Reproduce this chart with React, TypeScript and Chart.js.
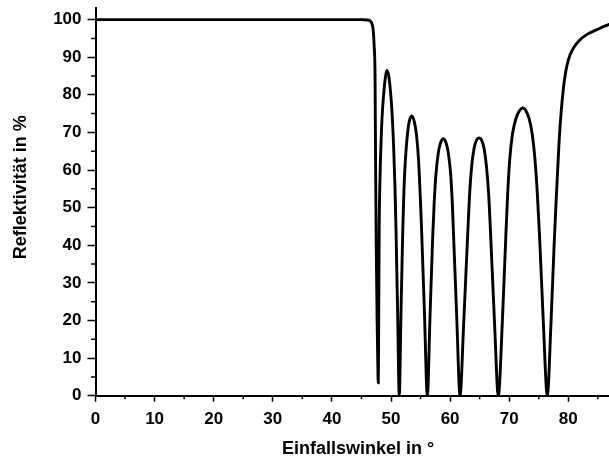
import React, { useEffect, useRef } from "react";
import { Chart, registerables } from "chart.js";

Chart.register(...registerables);

// Incidence angle (degrees)
const angles = [
  0, 10, 20, 30, 40, 45, 46, 46.5, 46.8, 47.0, 47.15, 47.3, 47.4, 47.5, 47.65, 47.8, 47.85,
  47.92, 48.0, 48.1, 48.22, 48.4, 48.58, 48.78, 49.0, 49.27,
  49.55, 49.83, 50.15, 50.45, 50.68, 50.85, 51.12, 51.4,
  51.69, 51.99, 52.2, 52.45, 52.78, 53.1, 53.5,
  53.92, 54.3, 54.65, 54.95, 55.18, 55.66, 56.15,
  56.6, 57.05, 57.3, 57.6, 58.0, 58.4, 58.85,
  59.3, 59.7, 60.1, 60.38, 60.6, 61.12, 61.68,
  62.3, 62.95, 63.28, 63.65, 64.05, 64.45, 64.9,
  65.35, 65.75, 66.15, 66.55, 66.88, 67.52, 68.16,
  68.83, 69.42, 69.75, 70.1, 70.55, 71.1, 71.7, 72.28,
  72.85, 73.4, 73.9, 74.35, 74.75, 75.15, 75.78, 76.45,
  77.07, 77.6, 77.87, 78.43, 78.82, 79.15, 79.44, 79.8, 80.29, 80.85, 81.7, 83.1, 85.1, 86.9, 88.5, 90,
];

// Reflectivity (%)
const reflectivity = [
  100, 100, 100, 100, 100, 100, 99.9, 99.6, 98.8, 97, 93, 85, 60, 40, 20, 5, 3.4,
  20, 44, 55, 63, 71, 76.5, 80.5, 84, 86.5,
  85.6, 82.3, 76, 66, 55, 44, 22, 0,
  22, 44, 55, 63, 69.5, 73, 74.4,
  73, 69.5, 63, 53, 44, 22, 0,
  21, 42, 51, 58.8, 64.5, 67.3, 68.3,
  67.3, 64.5, 58.8, 51, 42, 21, 0,
  19.3, 42, 53, 61, 65.7, 67.9, 68.5,
  67.9, 65.7, 61, 53, 42, 19.3, 0,
  19.3, 42, 54, 63, 69.5, 73.5, 75.7, 76.5,
  75.7, 73.5, 69.5, 63, 54, 42, 19.3, 0,
  19.3, 40, 49.4, 67.2, 76, 81.4, 84.9, 88, 90.6, 92.4, 94.2, 96, 97.5, 98.7, 99.4, 99.8,
];

const xMin = 0;
const xMax = 90;
const xStep = 10;
const xMinorTicks = [5, 15, 25, 35, 45, 55, 65, 75, 85];
const yMin = 0;
const yMax = 103;
const yStep = 10;
const yMinorTicks = [5, 15, 25, 35, 45, 55, 65, 75, 85, 95];

const xTitle = "Einfallswinkel in °";
const yTitle = "Reflektivität in %";

const FONT = "'Liberation Sans', Arial, sans-serif";

export default function App() {
  const ref = useRef<HTMLCanvasElement | null>(null);

  useEffect(() => {
    const canvas = ref.current;
    if (!canvas) return;

    const points = angles.map((a, i) => ({ x: a, y: reflectivity[i] }));

    const minorTicksPlugin = {
      id: "minorTicks",
      afterDraw(chart: any) {
        const ctx = chart.ctx;
        const xs = chart.scales.x;
        const ys = chart.scales.y;
        const area = chart.chartArea;
        ctx.save();
        ctx.strokeStyle = "#000";
        ctx.lineWidth = 1.5;
        ctx.beginPath();
        xMinorTicks.forEach((v) => {
          const px = xs.getPixelForValue(v);
          ctx.moveTo(px, area.bottom);
          ctx.lineTo(px, area.bottom + 3.5);
        });
        yMinorTicks.forEach((v) => {
          const py = ys.getPixelForValue(v);
          ctx.moveTo(area.left, py);
          ctx.lineTo(area.left - 4.5, py);
        });
        ctx.stroke();
        ctx.restore();
      },
    };

    const titlesPlugin = {
      id: "axisTitles",
      afterDraw(chart: any) {
        const ctx = chart.ctx;
        ctx.save();
        ctx.fillStyle = "#000";
        ctx.font = `bold 18px ${FONT}`;
        ctx.textAlign = "center";
        ctx.textBaseline = "alphabetic";
        ctx.fillText(xTitle, 358, 454.3);
        ctx.translate(26, 187.3);
        ctx.rotate(-Math.PI / 2);
        ctx.fillText(yTitle, 0, 0);
        ctx.restore();
      },
    };

    const tickFont = { family: FONT, size: 17, weight: "bold" as const };

    const chart = new Chart(canvas, {
      type: "line",
      data: {
        datasets: [
          {
            data: points,
            borderColor: "#000",
            borderWidth: 2.9,
            pointRadius: 0,
            fill: false,
            cubicInterpolationMode: "monotone",
          },
        ],
      },
      options: {
        animation: false,
        responsive: false,
        devicePixelRatio: 1,
        layout: { padding: { top: 8.3, right: 32.6, left: 0, bottom: 0 } },
        plugins: {
          legend: { display: false },
          tooltip: { enabled: false },
        },
        scales: {
          x: {
            type: "linear",
            min: xMin,
            max: xMax,
            ticks: {
              stepSize: xStep,
              includeBounds: false,
              color: "#000",
              font: tickFont,
              padding: 7,
              maxRotation: 0,
              autoSkip: false,
            },
            grid: {
              drawOnChartArea: false,
              drawTicks: true,
              tickLength: 6,
              tickWidth: 1.5,
              tickColor: "#000",
            },
            border: { color: "#000", width: 2 },
            afterFit: (s: any) => {
              s.height = 62.3;
              s.paddingLeft = 0;
              s.paddingRight = 0;
            },
          },
          y: {
            type: "linear",
            min: yMin,
            max: yMax,
            ticks: {
              stepSize: yStep,
              includeBounds: false,
              color: "#000",
              font: tickFont,
              padding: 6,
            },
            grid: {
              drawOnChartArea: false,
              drawTicks: true,
              tickLength: 8,
              tickWidth: 1.5,
              tickColor: "#000",
            },
            border: { color: "#000", width: 2 },
            afterFit: (s: any) => {
              s.width = 95.5;
              s.paddingTop = 0;
              s.paddingBottom = 0;
            },
          },
        },
      },
      plugins: [minorTicksPlugin, titlesPlugin],
    } as any);

    return () => chart.destroy();
  }, []);

  return (
    <div
      style={{
        position: "fixed",
        left: 0,
        top: 0,
        width: 609,
        height: 458,
        overflow: "hidden",
        background: "#fff",
      }}
    >
      <canvas ref={ref} width={660} height={458} style={{ display: "block" }} />
    </div>
  );
}
